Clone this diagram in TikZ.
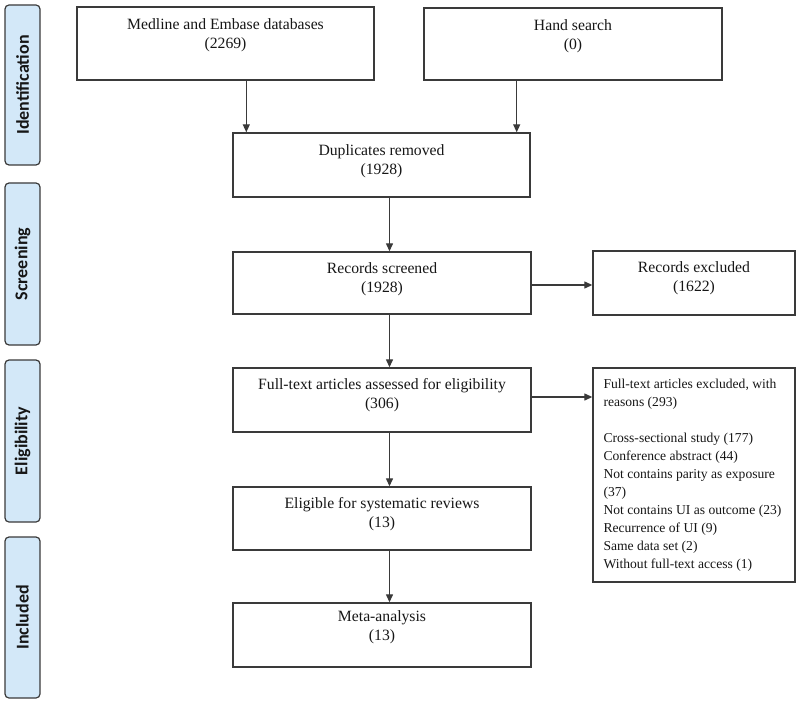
\documentclass[tikz,border=0pt]{standalone}
\usepackage{fontspec}
\setmainfont{Liberation Serif}
\newfontfamily\stagefont{Carlito}
\usetikzlibrary{arrows.meta,calc}
\definecolor{stagefill}{HTML}{D3E8F8}
\definecolor{edge}{HTML}{3A3A3A}
\definecolor{ink}{HTML}{161616}
\tikzset{
  box/.style={draw=edge, line width=1.4pt, rectangle, inner sep=0pt},
  stagebox/.style={draw=edge, line width=1.2pt, fill=stagefill, rounded corners=4pt, inner sep=0pt},
  stagetext/.style={rotate=90, font=\stagefont\bfseries\fontsize{18}{20}\selectfont, text=ink},
  maintext/.style={anchor=north, align=center, inner sep=0pt, text=ink, font=\fontsize{15.7}{18.8}\selectfont},
  sidetext/.style={anchor=north west, align=left, inner sep=0pt, text=ink, font=\fontsize{13.6}{18}\selectfont},
  arr/.style={draw=edge, line width=1.3pt, -{Triangle[length=8pt,width=7pt]}}
}
\begin{document}
\begin{tikzpicture}[x=1pt,y=-1pt]
\useasboundingbox (0,0) rectangle (800,703);
% stage labels
\node[stagebox, minimum width=35pt, minimum height=160pt] (s1) at (22.5,85) {};
\node[stagetext] (s1t) at (s1.center) {Identification};
\node[stagebox, minimum width=35pt, minimum height=162pt] (s2) at (22.5,264) {};
\node[stagetext] (s2t) at (s2.center) {Screening};
\node[stagebox, minimum width=35pt, minimum height=162pt] (s3) at (22.5,441) {};
\node[stagetext] (s3t) at (s3.center) {Eligibility};
\node[stagebox, minimum width=35pt, minimum height=161pt] (s4) at (22.5,617.5) {};
\node[stagetext] (s4t) at (s4.center) {Included};
% main boxes
\node[box, minimum width=297pt, minimum height=73pt] (medline) at (225.5,43.5) {};
\node[maintext] (medlinet) at ([yshift=-12pt]medline.north) {Medline and Embase databases\\(2269)};
\node[box, minimum width=298pt, minimum height=72pt] (hand) at (573,44) {};
\node[maintext] (handt) at ([yshift=-12pt]hand.north) {Hand search\\(0)};
\node[box, minimum width=297pt, minimum height=64pt] (dup) at (381.5,165) {};
\node[maintext] (dupt) at ([yshift=-12pt]dup.north) {Duplicates removed\\(1928)};
\node[box, minimum width=298pt, minimum height=62pt] (scr) at (382,283) {};
\node[maintext] (scrt) at ([yshift=-11pt]scr.north) {Records screened\\(1928)};
\node[box, minimum width=298pt, minimum height=64pt] (full) at (382,400) {};
\node[maintext] (fullt) at ([yshift=-11pt]full.north) {Full-text articles assessed for eligibility\\(306)};
\node[box, minimum width=298pt, minimum height=63pt] (elig) at (382,518.5) {};
\node[maintext] (eligt) at ([yshift=-11pt]elig.north) {Eligible for systematic reviews\\(13)};
\node[box, minimum width=298pt, minimum height=64pt] (meta) at (382,635) {};
\node[maintext] (metat) at ([yshift=-8pt]meta.north) {Meta-analysis\\(13)};
% right boxes
\node[box, minimum width=202pt, minimum height=64pt] (recx) at (694,283) {};
\node[maintext] (recxt) at ([yshift=-11pt]recx.north) {Records excluded\\(1622)};
\node[box, minimum width=202pt, minimum height=214pt] (fullx) at (694,475) {};
\node[sidetext] (fullxt) at ([xshift=11pt,yshift=-12pt]fullx.north west) {Full-text articles excluded, with\\reasons (293)\\[18pt]Cross-sectional study (177)\\Conference abstract (44)\\Not contains parity as exposure\\(37)\\Not contains UI as outcome (23)\\Recurrence of UI (9)\\Same data set (2)\\Without full-text access (1)};
% arrows
\coordinate (a1) at ([xshift=14pt]dup.north west);
\coordinate (a2) at ([xshift=-14pt]dup.north east);
\draw[arr] (a1 |- medline.south) -- (a1);
\draw[arr] (a2 |- hand.south) -- (a2);
\coordinate (v) at ([xshift=8pt]dup.south);
\draw[arr] (v) -- (v |- scr.north);
\draw[arr] (v |- scr.south) -- (v |- full.north);
\draw[arr] (v |- full.south) -- (v |- elig.north);
\draw[arr] (v |- elig.south) -- (v |- meta.north);
\draw[arr] ([yshift=-2pt]scr.east) -- ([yshift=-2pt]scr.east -| recx.west);
\draw[arr] ([yshift=3pt]full.east) -- ([yshift=3pt]full.east -| fullx.west);
\end{tikzpicture}
\end{document}
